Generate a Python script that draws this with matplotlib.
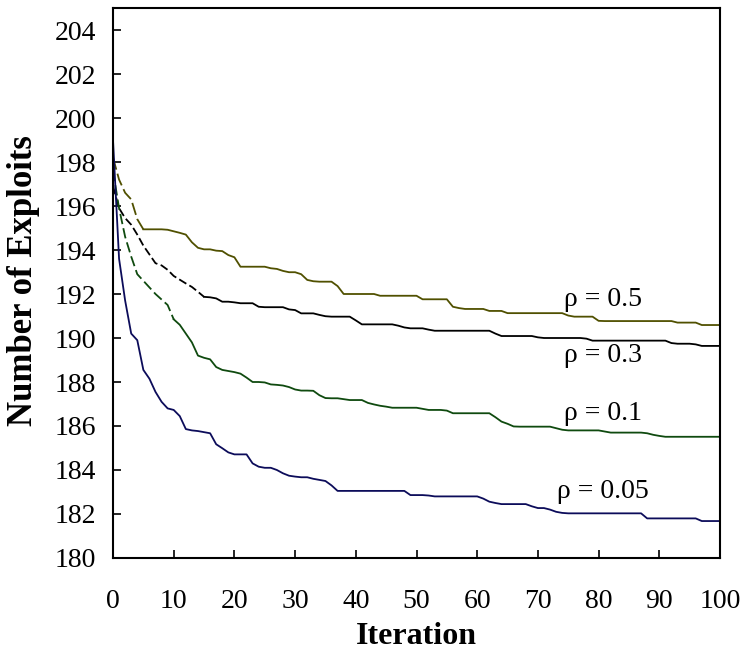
import numpy as np
import matplotlib
matplotlib.use("Agg")
import matplotlib.pyplot as plt

plt.rcParams['font.family'] = ['Liberation Serif', 'DejaVu Serif']
plt.rcParams['lines.scale_dashes'] = False

iterations = np.arange(0, 101)

# number of exploits per iteration for each evaporation rate
rho_05 = [198.2, 197.2, 196.6, 196.3, 195.4, 194.94, 194.94, 194.94, 194.94, 194.92,
          194.85, 194.78, 194.7, 194.35, 194.1, 194.03, 194.03, 193.97, 193.95, 193.77,
          193.67, 193.24, 193.24, 193.24, 193.24, 193.24, 193.17, 193.14, 193.05, 192.99,
          192.99, 192.9, 192.64, 192.58, 192.56, 192.56, 192.56, 192.36, 192.0, 192.0,
          192.0, 192.0, 192.0, 192.0, 191.92, 191.92, 191.92, 191.92, 191.92, 191.92,
          191.92, 191.76, 191.76, 191.76, 191.76, 191.76, 191.42, 191.36, 191.32, 191.32,
          191.32, 191.32, 191.23, 191.23, 191.23, 191.13, 191.13, 191.13, 191.13, 191.13,
          191.13, 191.13, 191.13, 191.13, 191.13, 191.02, 190.97, 190.97, 190.97, 190.97,
          190.78, 190.77, 190.77, 190.77, 190.77, 190.77, 190.77, 190.77, 190.77, 190.77,
          190.77, 190.77, 190.77, 190.7, 190.7, 190.7, 190.7, 190.59, 190.59, 190.59,
          190.59]

rho_03 = [196.9, 195.9, 195.45, 195.15, 194.7, 194.2, 193.8, 193.4, 193.3, 193.1,
          192.82, 192.65, 192.48, 192.32, 192.1, 191.87, 191.85, 191.8, 191.65, 191.65,
          191.62, 191.58, 191.58, 191.58, 191.42, 191.4, 191.4, 191.4, 191.4, 191.3,
          191.27, 191.12, 191.12, 191.12, 191.05, 190.99, 190.97, 190.97, 190.97, 190.97,
          190.8, 190.62, 190.62, 190.62, 190.62, 190.62, 190.62, 190.56, 190.48, 190.44,
          190.44, 190.44, 190.38, 190.33, 190.33, 190.33, 190.33, 190.33, 190.33, 190.33,
          190.33, 190.33, 190.33, 190.2, 190.09, 190.09, 190.09, 190.09, 190.09, 190.09,
          190.03, 190.0, 190.0, 190.0, 190.0, 190.0, 190.0, 190.0, 189.97, 189.88,
          189.88, 189.88, 189.88, 189.88, 189.88, 189.88, 189.88, 189.88, 189.88, 189.88,
          189.88, 189.88, 189.77, 189.74, 189.74, 189.74, 189.71, 189.64, 189.64, 189.64,
          189.64]

rho_01 = [197.6, 195.9, 194.6, 193.7, 192.9, 192.6, 192.3, 192.0, 191.75, 191.5,
          190.85, 190.6, 190.2, 189.8, 189.2, 189.1, 189.03, 188.68, 188.55, 188.5,
          188.45, 188.38, 188.2, 188.0, 188.0, 187.98, 187.89, 187.87, 187.84, 187.77,
          187.66, 187.61, 187.61, 187.6, 187.4, 187.27, 187.26, 187.26, 187.22, 187.18,
          187.18, 187.18, 187.05, 186.98, 186.92, 186.88, 186.83, 186.83, 186.83, 186.83,
          186.83, 186.78, 186.73, 186.73, 186.73, 186.7, 186.58, 186.58, 186.58, 186.58,
          186.58, 186.58, 186.58, 186.4, 186.2, 186.1, 185.98, 185.97, 185.97, 185.97,
          185.97, 185.97, 185.97, 185.9, 185.83, 185.8, 185.8, 185.8, 185.8, 185.8,
          185.8, 185.75, 185.7, 185.7, 185.7, 185.7, 185.7, 185.7, 185.67, 185.6,
          185.55, 185.51, 185.51, 185.51, 185.51, 185.51, 185.51, 185.51, 185.51, 185.51,
          185.51]

rho_005 = [199.0, 193.6, 191.7, 190.2, 189.9, 188.55, 188.15, 187.55, 187.1, 186.8,
           186.73, 186.45, 185.86, 185.8, 185.77, 185.72, 185.67, 185.17, 184.99, 184.8,
           184.71, 184.71, 184.71, 184.3, 184.15, 184.1, 184.1, 184.0, 183.85, 183.74,
           183.7, 183.67, 183.67, 183.6, 183.55, 183.5, 183.3, 183.05, 183.05, 183.05,
           183.05, 183.05, 183.05, 183.05, 183.05, 183.05, 183.05, 183.05, 183.05, 182.86,
           182.86, 182.86, 182.84, 182.8, 182.8, 182.8, 182.8, 182.8, 182.8, 182.8,
           182.8, 182.7, 182.56, 182.5, 182.45, 182.45, 182.45, 182.45, 182.45, 182.35,
           182.27, 182.27, 182.2, 182.1, 182.05, 182.03, 182.03, 182.03, 182.03, 182.03,
           182.03, 182.03, 182.03, 182.03, 182.03, 182.03, 182.03, 182.03, 181.8, 181.8,
           181.8, 181.8, 181.8, 181.8, 181.8, 181.8, 181.8, 181.68, 181.68, 181.68,
           181.68]

labels = ['ρ = 0.5', 'ρ = 0.3', 'ρ = 0.1', 'ρ = 0.05']
label_x = [80.7, 80.7, 80.7, 80.7]
label_y = [191.75, 189.2, 186.55, 183.0]
colors = ['#505000', '#000000', '#0f4a0f', '#0c0c5a']
# how many early iterations are drawn dashed, and the dash pattern (pt)
dash_until = [5, 15, 10, 0]
dash_style = [(9, 3), (6, 2.5), (7.5, 3), None]

fig = plt.figure(figsize=(7.41, 6.55), dpi=100)
ax = fig.add_axes([113 / 741, 97 / 655, 607 / 741, 550 / 655])

all_series = [rho_05, rho_03, rho_01, rho_005]
for series, col, n, ds in zip(all_series, colors, dash_until, dash_style):
    y = np.asarray(series)
    if n > 0:
        ax.plot(iterations[:n + 1], y[:n + 1], color=col, lw=1.3,
                linestyle=(0, ds), dash_capstyle='butt')
    ax.plot(iterations[n:], y[n:], color=col, lw=1.3)

for txt, lx, ly in zip(labels, label_x, label_y):
    ax.text(lx, ly, txt, fontsize=20, ha='center', va='center')

ax.set_xlim(0, 100)
ax.set_ylim(180, 205)
ax.set_xticks(np.arange(0, 101, 10))
ax.set_yticks(np.arange(180, 205, 2))
ax.tick_params(axis='both', direction='in', length=6, width=1.2, labelsize=20)
ax.tick_params(axis='x', pad=22)
ax.tick_params(axis='y', pad=12)
for sp in ax.spines.values():
    sp.set_linewidth(1.5)

fig.text(24 / 741, 1 - 281 / 655, 'Number of Exploits', rotation=90,
         fontsize=25, fontweight='bold', ha='center', va='center')
fig.text(416 / 741, 1 - 636 / 655, 'Iteration', fontsize=23,
         fontweight='bold', ha='center', va='center')

fig.savefig('out.png', dpi=100)
